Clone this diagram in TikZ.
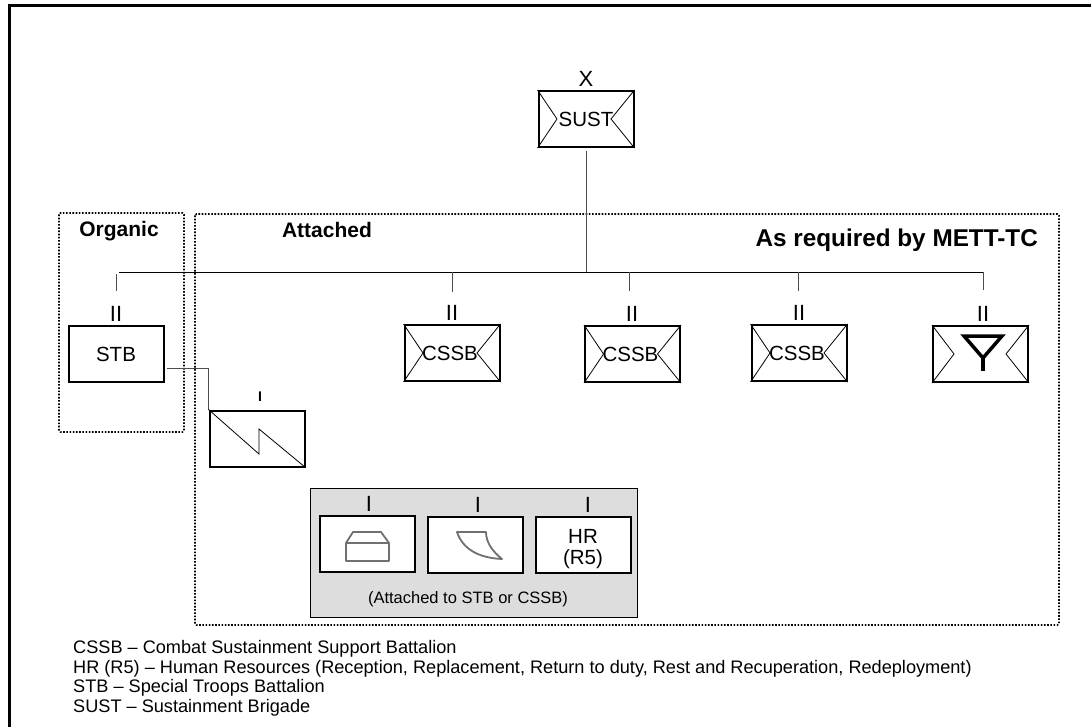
\documentclass[tikz,border=0pt]{standalone}
\usepackage{fontspec}
\setmainfont{Liberation Sans}
\usetikzlibrary{positioning}
\definecolor{panelgray}{HTML}{DDDDDD}
\definecolor{icongray}{HTML}{6E7073}
\tikzset{
  unitbox/.style={rectangle,draw,line width=2pt,fill=white,minimum width=95pt,minimum height=56pt,inner sep=0pt,font=\fontsize{20.5}{21}\selectfont,align=center},
  echelon/.style={inner sep=0pt,font=\fontsize{22}{22}\selectfont},
  heading/.style={inner sep=0pt,font=\fontsize{21}{22}\selectfont\bfseries},
  legendline/.style={anchor=base west,inner sep=0pt,font=\fontsize{18.15}{20}\selectfont},
  zone/.style={line width=1.6pt,dash pattern=on 1.6pt off 1.6pt},
  tie/.style={line width=.9pt,draw=black!70},
  xline/.style={line width=.8pt}
}
\begin{document}
\begin{tikzpicture}[x=1pt,y=-1pt]
\useasboundingbox (0,0) rectangle (1091,727);
\draw[line width=3pt] (9.5,727) -- (9.5,5.5) -- (1091,5.5);

% zones
\draw[zone,rounded corners=1.5pt] (59,213) rectangle (184,432);
\draw[zone,rounded corners=1.5pt] (195,214) rectangle (1059,625);
\path (119,231) node[heading] (organic) {Organic};
\path (327,230) node[heading] (attached) {Attached};
\path (1038,247) node[heading,anchor=base east,font=\fontsize{24.3}{25}\selectfont\bfseries] (mett) {As required by METT-TC};

% command
\path (586,119) node[unitbox] (sust) {SUST};
\path (586,79) node[echelon] (sustmark) {X};
\path (586,272) coordinate (hub);
\path (119,272) coordinate (barleft);
\path (983,272) coordinate (barright);
\draw[tie,shorten <=3pt] (sust) -- (hub);
\draw[line width=.9pt] (barleft) -- (barright);

% battalions
\path (116,354) node[unitbox] (stb) {STB};
\path (116,314) node[echelon] (stbmark) {II};
\path (452,353) node[unitbox] (cssba) {CSSB\hspace{4pt}};
\path (452,313) node[echelon] (cssbamark) {II};
\path (632.5,354) node[unitbox] (cssbb) {CSSB\hspace{4pt}};
\path (632,314) node[echelon] (cssbbmark) {II};
\path (799,353) node[unitbox] (cssbc) {CSSB\hspace{4pt}};
\path (799,313) node[echelon] (cssbcmark) {II};
\path (980.5,354) node[unitbox] (sig) {};
\path (983,314) node[echelon] (sigmark) {II};

% envelope lines
\foreach \u in {sust,cssba,cssbb,cssbc}{
  \draw[xline] (\u.north west) -- ([xshift=-29pt]\u.center) -- (\u.south west);
  \draw[xline] (\u.north east) -- ([xshift=25pt]\u.center) -- (\u.south east);
}
\draw[xline] (sig.north west) -- ([xshift=-26.5pt]sig.center) -- (sig.south west);
\draw[xline] (sig.north east) -- ([xshift=25.5pt]sig.center) -- (sig.south east);
\draw[line width=3.5pt,line join=miter] (964,336) -- (1002,336) -- (983,358) -- cycle;
\draw[line width=3.5pt] (983,358) -- (983,371);

% ticks off the bar
\path (116,272) coordinate (tickstb);
\path (452,272) coordinate (tickcssba);
\path (629,272) coordinate (tickcssbb);
\path (798,272) coordinate (tickcssbc);
\path (983,272) coordinate (ticksig);
\draw[tie,shorten <=2pt] (tickstb) -- ++(0,19) coordinate (stubstb);
\draw[tie] (tickcssba) -- ++(0,20) coordinate (stubcssba);
\draw[tie] (tickcssbb) -- ++(0,19) coordinate (stubcssbb);
\draw[tie] (tickcssbc) -- ++(0,19) coordinate (stubcssbc);
\draw[tie] (ticksig) -- ++(0,18) coordinate (stubsig);

% signal company
\path (257,438.5) node[unitbox] (sigco) {};
\path (260,397) node[echelon,font=\fontsize{14}{14}\selectfont\bfseries] (sigcomark) {I};
\draw[tie] ([xshift=2pt,yshift=-14pt]stb.east) -| (sigco.north west);
\draw[xline] (sigco.north west) -- (259,454) -- (259,429) -- (sigco.south east);

% attached companies
\draw[line width=.9pt,fill=panelgray] (310,488) rectangle (637,617);
\path (367,544) node[unitbox] (supply) {};
\path (475,544.5) node[unitbox] (field) {};
\path (583,545) node[unitbox] (hr) {\rule{0pt}{22pt}HR\\(R5)};
\path (369,504) node[echelon] (supplymark) {I};
\path (478,505) node[echelon] (fieldmark) {I};
\path (588,505) node[echelon] (hrmark) {I};
\draw[icongray,line width=1.8pt,line join=round] (346,543) rectangle (389,561) (346,543) -- (353,532) -- (381,532) -- (389,543);
\draw[icongray,line width=1.8pt,line join=round] (457,532) -- (486,532) .. controls (486,542) and (492,551) .. (502,559) .. controls (480,558) and (463,550) .. (457,532) -- cycle;
\path (468,599) node[inner sep=0pt,font=\fontsize{16.5}{18}\selectfont] (panelnote) {(Attached to STB or CSSB)};

% abbreviations
\path (73,653.5) node[legendline] (lcssb) {CSSB – Combat Sustainment Support Battalion};
\path (73,673) node[legendline] (lhr) {HR (R5) – Human Resources (Reception, Replacement, Return to duty, Rest and Recuperation, Redeployment)};
\path (73,692.5) node[legendline] (lstb) {STB – Special Troops Battalion};
\path (73,712) node[legendline] (lsust) {SUST – Sustainment Brigade};
\end{tikzpicture}
\end{document}
